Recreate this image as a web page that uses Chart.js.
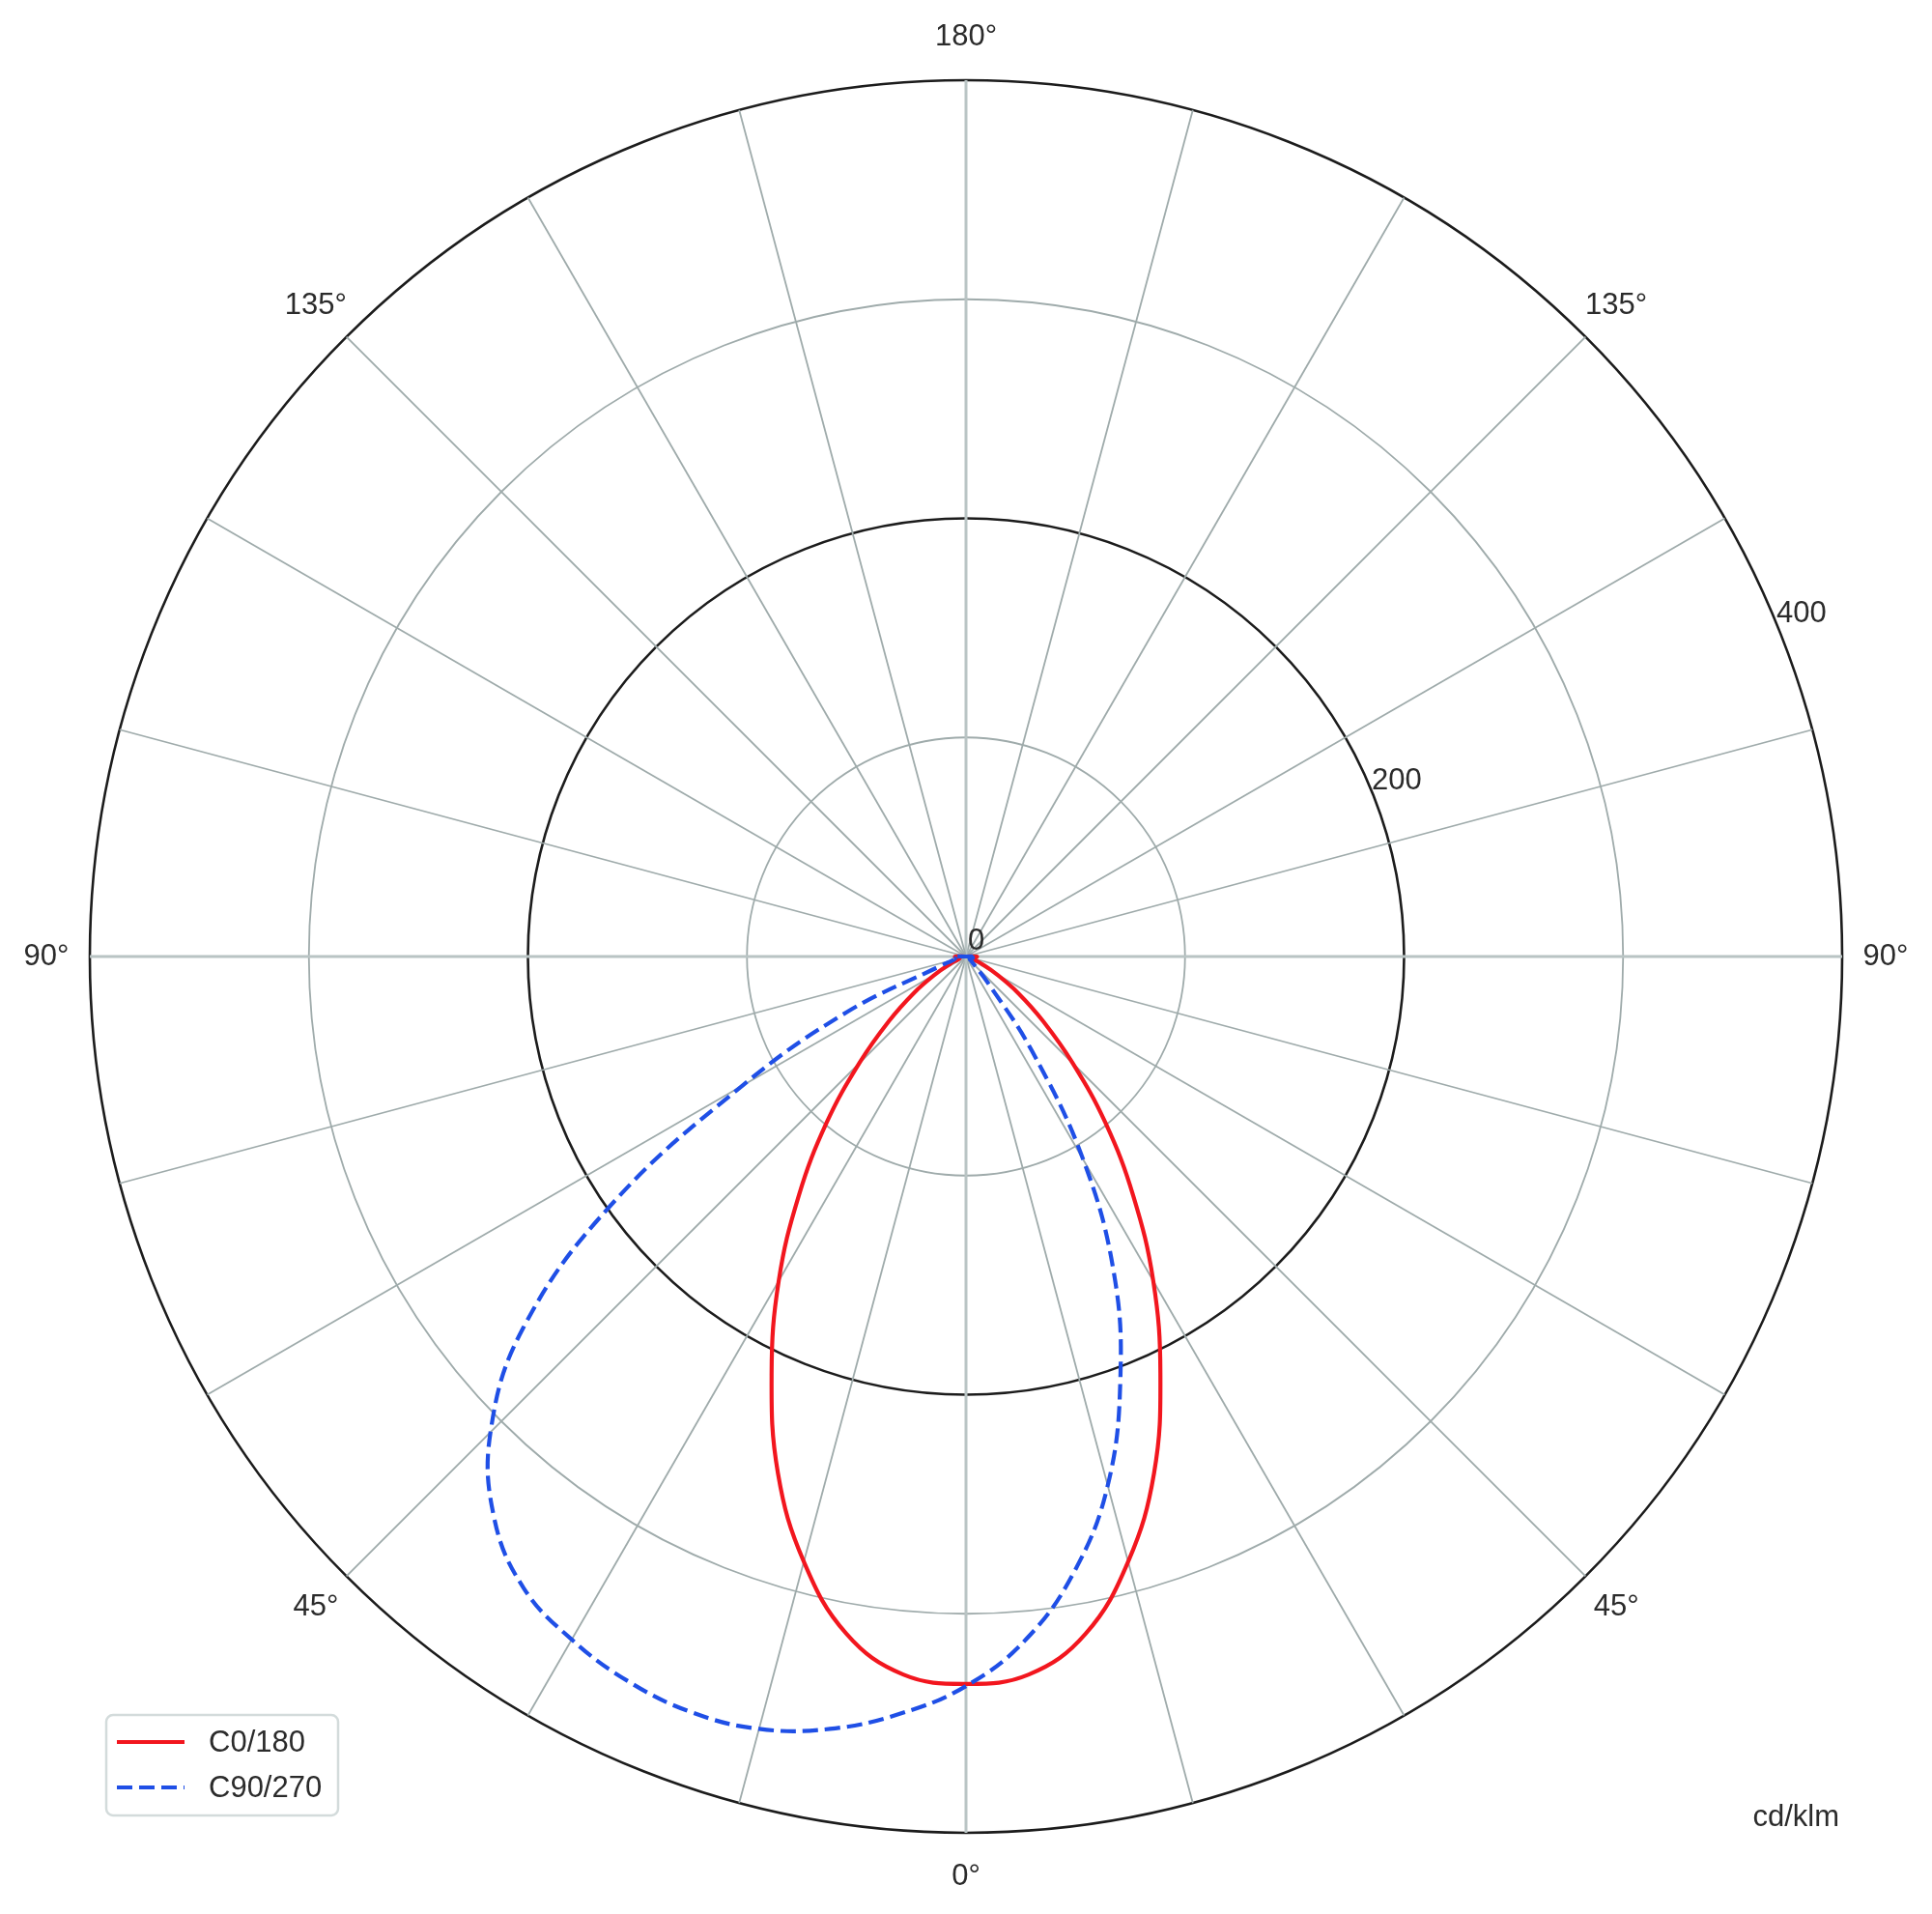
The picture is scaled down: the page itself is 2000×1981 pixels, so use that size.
<!DOCTYPE html>
<html>
<head>
<meta charset="utf-8">
<title>Light distribution (polar)</title>
<script src="https://cdn.jsdelivr.net/npm/chart.js@4.4.1/dist/chart.umd.min.js"></script>
<style>
  html, body { margin: 0; padding: 0; background: #fff; }
  #wrap { position: relative; width: 2000px; height: 1981px; }
</style>
</head>
<body>
<div id="wrap"><canvas id="chart"></canvas></div>
<script>
// gamma angles in degrees, 0 = straight down (nadir), 180 = straight up
const gammaDeg = [0, 5, 10, 15, 20, 25, 30, 35, 40, 45, 50, 55, 60, 65, 70, 75, 80, 85, 90,
  95, 100, 105, 110, 115, 120, 125, 130, 135, 140, 145, 150, 155, 160, 165, 170, 175, 180];

// intensities in cd/klm, one value per gamma angle
// C0 plane (right half) and C180 plane (left half)
const c0 = [332, 329, 314, 286, 251, 210, 171, 133, 99, 69, 46, 29, 16, 8, 4, 3, 3, 4, 5,
  0, 0, 0, 0, 0, 0, 0, 0, 0, 0, 0, 0, 0, 0, 0, 0, 0, 0];
const c180 = [332, 329, 314, 286, 251, 210, 171, 133, 99, 69, 46, 29, 16, 8, 4, 3, 3, 4, 5,
  0, 0, 0, 0, 0, 0, 0, 0, 0, 0, 0, 0, 0, 0, 0, 0, 0, 0];
// C90 plane (right half) and C270 plane (left half)
const c90 = [332, 313, 285, 250, 206, 160, 107, 52, 15, 5, 3, 2, 2, 2, 2, 3, 3, 4, 5,
  0, 0, 0, 0, 0, 0, 0, 0, 0, 0, 0, 0, 0, 0, 0, 0, 0, 0];
const c270 = [333, 347, 358, 365, 367, 365, 360, 352, 335, 307, 264, 198, 118, 60, 12, 6, 5, 6, 6,
  0, 0, 0, 0, 0, 0, 0, 0, 0, 0, 0, 0, 0, 0, 0, 0, 0, 0];

const seriesNames = ["C0/180", "C90/270"];
const angleTickLabels = [0, 45, 90, 135, 180];
const radialMax = 400;
const radialStep = 100;
const radialTickLabels = [0, 200, 400];
const unitLabel = "cd/klm";

const RED = "#f2161e";
const BLUE = "#1f4fe6";
const TEXT = "#2b2b2b";
const GRID = "#9fabab";
const AXIS = "#b9c4c4";
const DARK = "#1c1c1c";
const FONT = '"Liberation Sans", Arial, Helvetica, sans-serif';

// full circle, clockwise starting at the bottom: left half first, then right half back down
function fullCircle(left, right) {
  const out = left.slice();
  for (let i = right.length - 2; i >= 1; i--) out.push(right[i]);
  return out;
}
const circleLabels = fullCircle(gammaDeg, gammaDeg);
const redData = fullCircle(c180, c0);
const blueData = fullCircle(c270, c90);

// text that sits round the polar grid + framed legend
const polarText = {
  id: "polarText",
  afterDraw(chart) {
    const r = chart.scales.r;
    const c = chart.ctx;
    c.save();
    c.fillStyle = TEXT;
    c.font = "31px " + FONT;

    // angle labels just outside the outer circle
    c.textAlign = "center";
    c.textBaseline = "middle";
    circleLabels.forEach((g, i) => {
      if (!angleTickLabels.includes(g)) return;
      const p = r.getPointPosition(i, r.drawingArea + 45);
      c.fillText(g + "°", p.x, p.y);
    });

    // radial value labels along 67.5 deg (clockwise from top)
    const a = 67.5 * Math.PI / 180;
    c.textAlign = "left";
    c.textBaseline = "alphabetic";
    radialTickLabels.forEach((v) => {
      const d = r.getDistanceFromCenterForValue(v);
      const x = r.xCenter + d * Math.sin(a);
      const y = r.yCenter - d * Math.cos(a);
      c.fillText(String(v), x + (v === 0 ? 2 : 1), y + (v === 0 ? -7 : 1));
    });

    // unit
    c.textAlign = "right";
    c.fillText(unitLabel, 1904, 1890);

    // legend box
    c.beginPath();
    c.roundRect(110, 1775, 240, 104, 7);
    c.fillStyle = "rgba(255,255,255,0.85)";
    c.fill();
    c.lineWidth = 2.5;
    c.strokeStyle = "#d3dbdb";
    c.stroke();

    const rows = [
      { y: 1803, color: RED, dash: [] },
      { y: 1850, color: BLUE, dash: [16, 7] },
    ];
    rows.forEach((row, i) => {
      c.beginPath();
      c.setLineDash(row.dash);
      c.lineWidth = 4.2;
      c.strokeStyle = row.color;
      c.moveTo(121, row.y);
      c.lineTo(191, row.y);
      c.stroke();
      c.setLineDash([]);
      c.fillStyle = TEXT;
      c.textAlign = "left";
      c.textBaseline = "middle";
      c.fillText(seriesNames[i], 216, row.y + 1);
    });
    c.restore();
  },
};

function render() {
  const ctx = document.getElementById("chart").getContext("2d");
  new Chart(ctx, {
    type: "radar",
    data: {
      labels: circleLabels,
      datasets: [
        {
          label: seriesNames[0],
          data: redData,
          borderColor: RED,
          borderWidth: 4.2,
          fill: false,
          pointRadius: 0,
          tension: 0.4,
          order: 1,
        },
        {
          label: seriesNames[1],
          data: blueData,
          borderColor: BLUE,
          borderWidth: 4.2,
          borderDash: [16, 7],
          fill: false,
          pointRadius: 0,
          tension: 0.4,
          order: 0,
        },
      ],
    },
    options: {
      responsive: true,
      maintainAspectRatio: false,
      animation: false,
      layout: { padding: { left: 92, right: 92, top: 83, bottom: 84 } },
      plugins: {
        legend: { display: false },
        tooltip: { enabled: false },
      },
      scales: {
        r: {
          min: 0,
          max: radialMax,
          startAngle: 180,
          ticks: { display: false, stepSize: radialStep },
          pointLabels: { display: false },
          grid: {
            circular: true,
            color: (c) => (c.tick && c.tick.value % 200 === 0 ? DARK : GRID),
            lineWidth: (c) => (c.tick && c.tick.value % 200 === 0 ? 2.6 : 1.8),
          },
          angleLines: {
            // spokes every 15 deg, the four main axes a bit wider
            color: (c) => (c.index % 18 === 0 ? AXIS : GRID),
            lineWidth: (c) => (c.index % 3 !== 0 ? 0 : c.index % 18 === 0 ? 3 : 1.8),
          },
        },
      },
    },
    plugins: [polarText],
  });
}

if (document.readyState === "loading")
  document.addEventListener("DOMContentLoaded", render);
else render();
</script>
</body>
</html>
